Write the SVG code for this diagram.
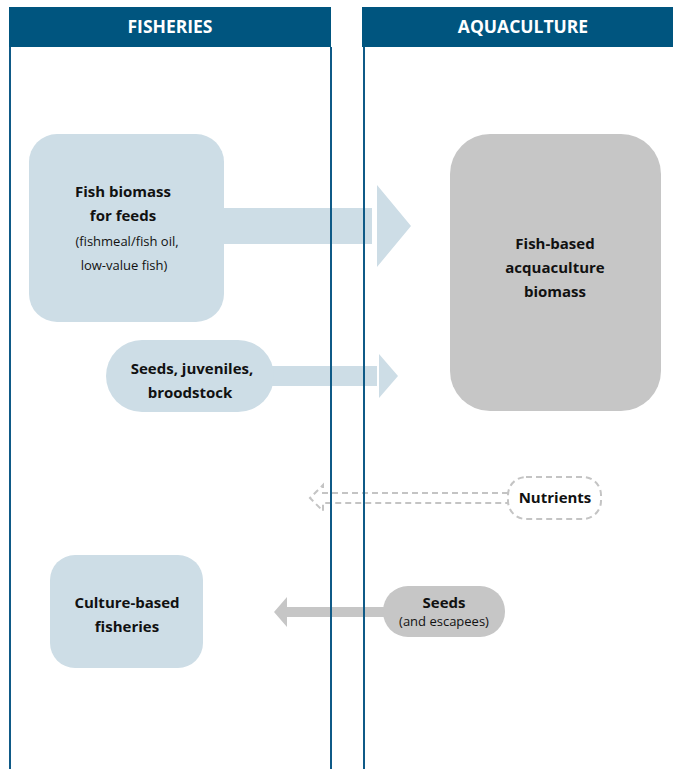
<svg xmlns="http://www.w3.org/2000/svg" width="673" height="769" viewBox="0 0 673 769">
<style>
.hd{fill:#00557f}
.hdt{font-family:"Open Sans","Liberation Sans",sans-serif;font-weight:bold;font-size:17.5px;fill:#fff;text-anchor:middle}
.ln{stroke:#0f5a87;stroke-width:2;fill:none}
.blue{fill:#cddde6}
.grey{fill:#c6c6c6}
.b{font-family:"Open Sans","Liberation Sans",sans-serif;font-weight:bold;font-size:15px;fill:#111;text-anchor:middle}
.r{font-family:"Open Sans","Liberation Sans",sans-serif;font-size:13px;fill:#111;text-anchor:middle}
.dash{fill:none;stroke:#c4c4c4;stroke-width:2;stroke-dasharray:6,4}
</style>
<rect width="673" height="769" fill="#fff"/>
<g id="connectors">
<path class="blue" d="M220 208 H372 V244 H220 Z M377 185 L411 226 L377 267 Z"/>
<path class="blue" d="M270 366 H377 V386 H270 Z M379 354 L398 376 L379 398 Z"/>
<path class="dash" d="M508 493 H323 V485 L310 498 L323 511 V503 H508"/>
<path class="grey" d="M287 607 H390 V617 H287 Z M287 597 L274 612 L287 627 Z"/>
</g>
<g id="panels">
<rect class="hd" x="9" y="7" width="322" height="40"/>
<text class="hdt" x="170" y="33">FISHERIES</text>
<rect class="hd" x="362" y="7" width="311" height="40"/>
<text class="hdt" x="523" y="33">AQUACULTURE</text>
<line class="ln" x1="10" y1="47" x2="10" y2="769"/>
<line class="ln" x1="331" y1="47" x2="331" y2="769"/>
<line class="ln" x1="364" y1="47" x2="364" y2="769"/>
</g>
<g id="fish-biomass">
<rect class="blue" x="29" y="134" width="195" height="188" rx="28"/>
<text class="b" x="123" y="197">Fish biomass</text>
<text class="b" x="123" y="221">for feeds</text>
<text class="r" x="127" y="246">(fishmeal/fish oil,</text>
<text class="r" x="124" y="270">low-value fish)</text>
</g>
<g id="seeds-juveniles">
<rect class="blue" x="106" y="340" width="168" height="72" rx="36"/>
<text class="b" x="192" y="374">Seeds, juveniles,</text>
<text class="b" x="190" y="398">broodstock</text>
</g>
<g id="aquaculture-biomass">
<rect class="grey" x="450" y="134" width="211" height="277" rx="40"/>
<text class="b" x="555" y="249">Fish-based</text>
<text class="b" x="555" y="273">acquaculture</text>
<text class="b" x="555" y="297">biomass</text>
</g>
<g id="nutrients">
<rect class="dash" x="508" y="477" width="93" height="42" rx="18" fill="#fff"/>
<text class="b" x="555" y="503">Nutrients</text>
</g>
<g id="seeds-escapees">
<rect class="grey" x="383" y="586" width="122" height="51" rx="25"/>
<text class="b" x="444" y="608">Seeds</text>
<text class="r" x="444" y="626">(and escapees)</text>
</g>
<g id="culture-based">
<rect class="blue" x="50" y="555" width="153" height="113" rx="25"/>
<text class="b" x="127" y="608">Culture-based</text>
<text class="b" x="127" y="632">fisheries</text>
</g>
</svg>
